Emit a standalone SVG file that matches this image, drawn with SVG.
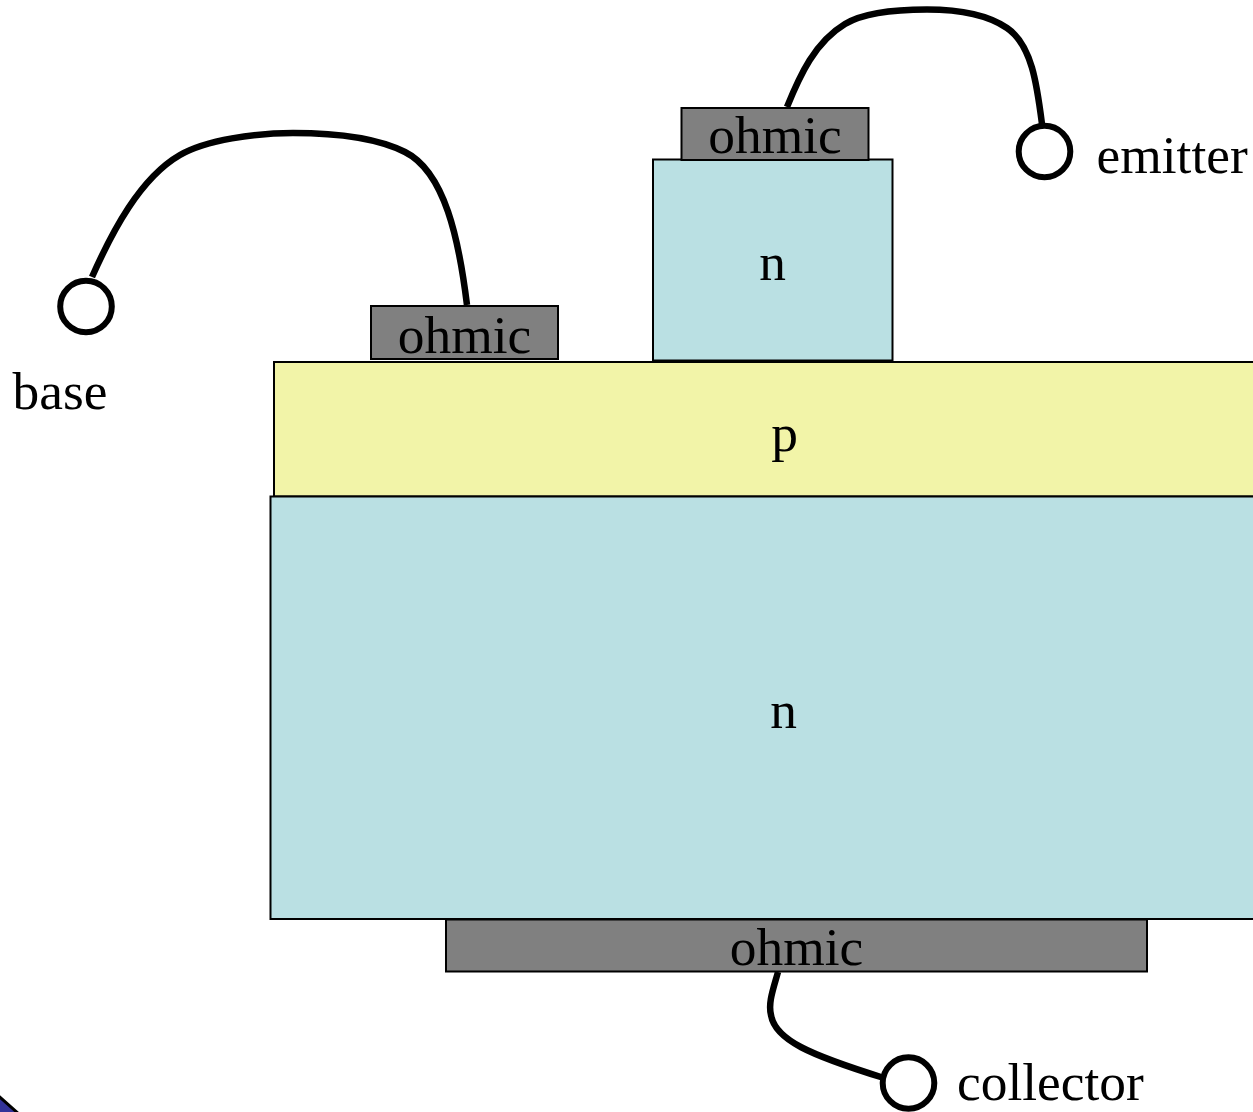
<svg xmlns="http://www.w3.org/2000/svg" width="1253" height="1112" viewBox="0 0 1253 1112">
<defs><style>
.l{stroke:#000;stroke-width:2}
.n{fill:#bae0e3}
.p{fill:#f2f4a8}
.o{fill:#808080}
.w{fill:none;stroke:#000;stroke-width:6.500;stroke-linecap:butt}
.t{fill:#fff;stroke:#000;stroke-width:6}
text{font-family:"Liberation Serif","Times New Roman",serif;font-size:53.4px;fill:#000}
.m{text-anchor:middle}
</style></defs>
<rect width="1253" height="1112" fill="#fff"/>
<path id="corner" d="M-3 1094.500L20 1115H-3Z" fill="#333399" stroke="#000" stroke-width="3"/>
<g id="p-layer"><rect class="l p" x="274" y="362" width="1000" height="134.500"/><text class="m" x="784.500" y="451">p</text></g>
<g id="n-collector"><rect class="l n" x="270.500" y="496.500" width="1000" height="422.500"/><text class="m" x="783.500" y="728">n</text></g>
<g id="n-emitter"><rect class="l n" x="653" y="159.500" width="239.500" height="201"/><text class="m" x="772.500" y="280">n</text></g>
<g id="ohmic-emitter"><rect class="l o" x="681.500" y="108" width="187" height="52"/><text class="m" x="775" y="153">ohmic</text></g>
<g id="ohmic-base"><rect class="l o" x="371" y="306" width="187" height="53"/><text class="m" x="464.500" y="353">ohmic</text></g>
<g id="ohmic-collector"><rect class="l o" x="446" y="919.500" width="701" height="52"/><text class="m" x="796.500" y="965">ohmic</text></g>
<g id="connectors">
<path class="w" d="M787 107C800 75 815 42 845 24C865 12 900 9.500 927 9.500C955 9.500 985 13 1007 28C1032 45 1037 85 1042 124"/>
<path class="w" d="M92 277C112 232 140 178 180 155C206 140 255 133 293 133C330 133 375 137 405 152C445 172 459 240 467 305"/>
<path class="w" d="M778 972C773 990 768 1003 771 1015C775 1040 810 1055 884 1078"/>
</g>
<g id="terminal-emitter"><circle class="t" cx="1044.500" cy="151.500" r="25.800"/><text x="1096.500" y="173">emitter</text></g>
<g id="terminal-base"><circle class="t" cx="86" cy="306.500" r="25.800"/><text x="12.500" y="409">base</text></g>
<g id="terminal-collector"><circle class="t" cx="908.500" cy="1083" r="25.800"/><text x="957" y="1100">collector</text></g>
</svg>
